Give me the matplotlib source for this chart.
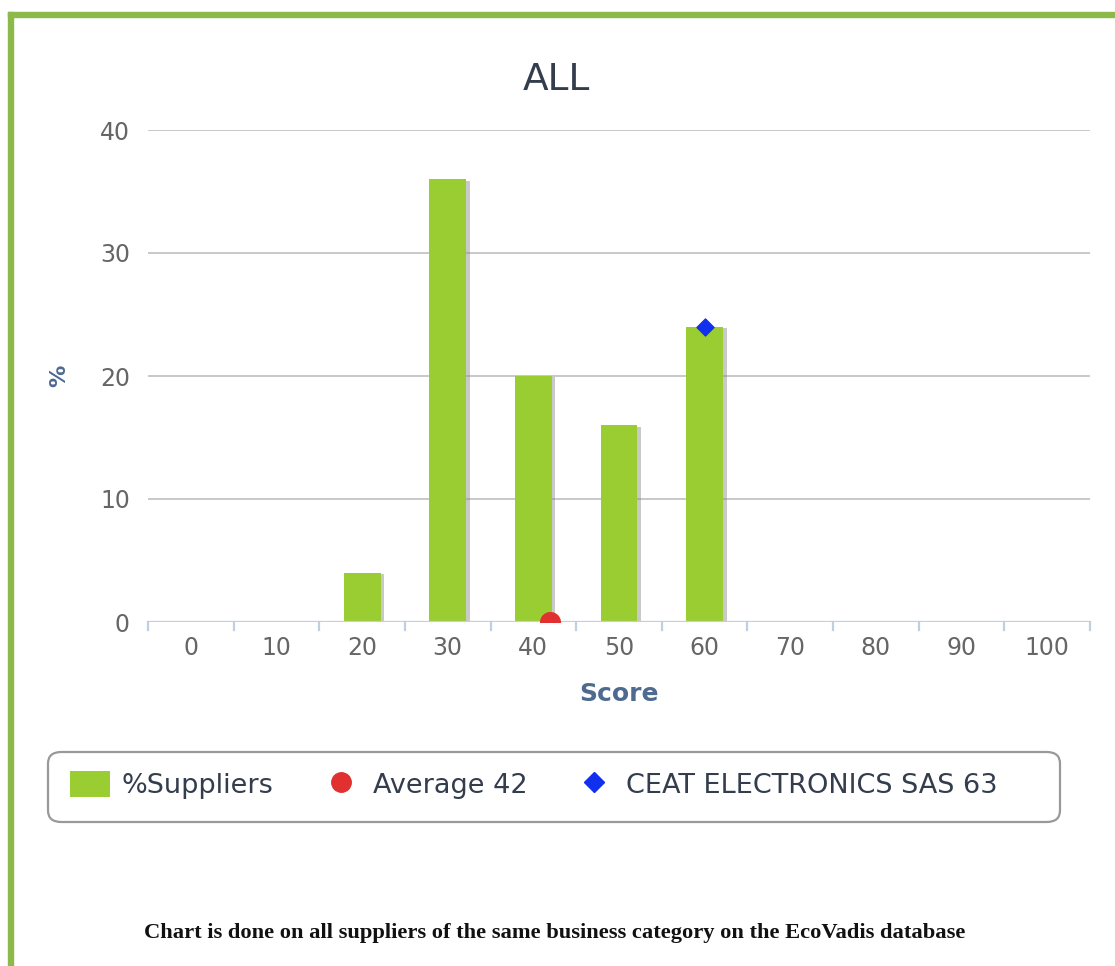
import matplotlib
matplotlib.use("Agg")
import matplotlib.pyplot as plt
from matplotlib.patches import Rectangle, FancyBboxPatch
from matplotlib.lines import Line2D
import matplotlib.patheffects as pe

# ---- data ----
categories = [0, 10, 20, 30, 40, 50, 60, 70, 80, 90, 100]
suppliers_pct = [0, 0, 4, 36, 20, 16, 24, 0, 0, 0, 0]
y_ticks = [0, 10, 20, 30, 40]
average_score = 42
average_y = 0
company_name = "CEAT ELECTRONICS SAS"
company_score = 63
company_x = 60
company_y = 24
title = "ALL"
footnote = "Chart is done on all suppliers of the same business category on the EcoVadis database"

W, H = 1115, 966
fig = plt.figure(figsize=(W / 100, H / 100), dpi=100)

def fx(px):
    return px / W

def fy(py):
    return 1 - py / H

# green frame
border = "#8db84a"
fig.patches.append(Rectangle((fx(8), fy(17)), fx(1115 - 8), 5 / H, transform=fig.transFigure,
                             color=border, zorder=0))
fig.patches.append(Rectangle((fx(8), 0), 5 / W, fy(12), transform=fig.transFigure,
                             color=border, zorder=0))

ax = fig.add_axes([fx(148), fy(622), fx(1090) - fx(148), fy(130) - fy(622)])
ax.set_xlim(-0.5, len(categories) - 0.5)
ax.set_ylim(0, 40)

idx = list(range(len(categories)))
bars = ax.bar(idx, suppliers_pct, width=0.43, color="#9acd32", zorder=3,
              path_effects=[pe.SimplePatchShadow(offset=(2.5, -1), shadow_rgbFace="#888888", alpha=0.45),
                            pe.Normal()])

ax.scatter([average_score / 10], [average_y], s=200, color="#e0302f", marker="o", zorder=5, clip_on=True)
ax.scatter([company_x / 10], [company_y], s=75, color="#1030ee", marker="D", zorder=5, clip_on=False)

# grid
ax.set_yticks(y_ticks)
for yv in y_ticks[1:]:
    ax.axhline(yv, color="#c8c8c8", lw=1.4, zorder=1)
ax.axhline(0, color="#c0d0e0", lw=1.6, zorder=4)

for s in ax.spines.values():
    s.set_visible(False)

ax.tick_params(axis="y", length=0, labelsize=17, labelcolor="#666666", pad=13)
ax.set_xticks(idx)
ax.set_xticklabels([str(c) for c in categories])
ax.tick_params(axis="x", length=0, labelsize=17, labelcolor="#666666", pad=10)
# boundary tick marks
for b in [i - 0.5 for i in range(len(categories) + 1)]:
    ax.plot([b, b], [0, -0.65], color="#c0d0e0", lw=1.6, clip_on=False, zorder=4)

ax.set_xlabel("Score", fontsize=18, fontweight="bold", color="#4d6a8f", labelpad=16)
ax.set_ylabel("%", fontsize=16, fontweight="bold", color="#4d6a8f", labelpad=22)

fig.text(fx(556), fy(80), title, fontsize=27, color="#333d4d", ha="center", va="center")

# legend box
fig.patches.append(FancyBboxPatch((fx(48), fy(822)), fx(1060) - fx(48), fy(752) - fy(822),
                                  boxstyle="round,pad=0,rounding_size=0.012",
                                  transform=fig.transFigure, facecolor="white",
                                  edgecolor="#999999", lw=1.6, zorder=1))

handles = [
    Rectangle((0, 0), 1, 1, facecolor="#9acd32", edgecolor="none"),
    Line2D([], [], ls="none", marker="o", markersize=14, color="#e0302f"),
    Line2D([], [], ls="none", marker="D", markersize=10, color="#1030ee"),
]
labels = ["%Suppliers", f"Average {average_score}", f"{company_name} {company_score}"]
leg = fig.legend(handles, labels, loc="center left", bbox_to_anchor=(fx(46), fy(785)),
                 ncol=3, frameon=False,
                 prop={"family": ["DejaVu Sans"], "size": 19.5},
                 handlelength=1.45, handleheight=1.1, handletextpad=0.45, columnspacing=1.75)
for t in leg.get_texts():
    t.set_color("#333d4d")

fig.text(fx(555), fy(933), footnote, fontsize=16.2, fontweight="bold",
         family=["Liberation Serif", "DejaVu Serif"], color="#111111", ha="center", va="center")

fig.savefig("out.png", dpi=100)
